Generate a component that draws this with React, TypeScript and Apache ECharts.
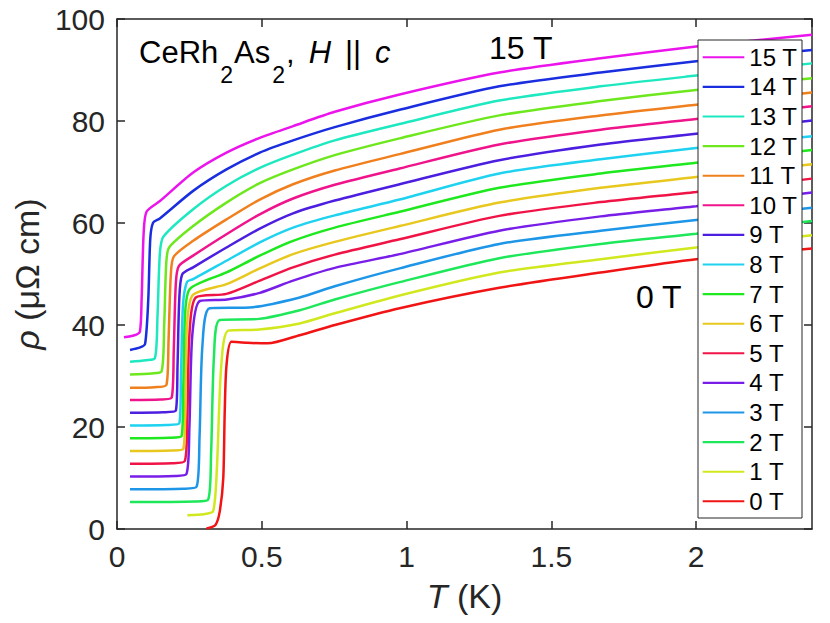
import React, { useEffect, useRef } from "react";
import * as echarts from "echarts";

const FONT = "'Liberation Sans', Arial, Helvetica, sans-serif";

const fieldLabels = ["15 T", "14 T", "13 T", "12 T", "11 T", "10 T", "9 T", "8 T", "7 T", "6 T", "5 T", "4 T", "3 T", "2 T", "1 T", "0 T"];
const fieldColors = ["#ec14ec", "#1a2ee0", "#1ee8c0", "#6ee81e", "#f07f1e", "#f0148c", "#4c1ee0", "#1ed2f0", "#1ee81e", "#e8c81e", "#f01446", "#781ee8", "#1e96e8", "#1ee85a", "#d2e81e", "#f01414"];

const xTicks = { min: 0, max: 2.4, interval: 0.5 };
const yTicks = { min: 0, max: 100, interval: 20 };

// [T (K), rho (μΩ cm)]
const rho15T = [[0.024, 37.6], [0.06, 38.0], [0.079, 38.7], [0.085, 45], [0.092, 58], [0.102, 62.2], [0.148, 64.3], [0.263, 69.9], [0.378, 73.8], [0.493, 76.7], [0.608, 79.0], [0.752, 81.8], [0.976, 85.2], [1.32, 89.5], [1.67, 92.3], [2.0, 94.6], [2.4, 96.9]];
const rho14T = [[0.045, 35.1], [0.08, 35.6], [0.097, 36.3], [0.108, 45], [0.115, 57], [0.125, 60.1], [0.148, 60.9], [0.263, 66.3], [0.378, 70.5], [0.493, 73.8], [0.608, 76.2], [0.752, 78.8], [0.976, 82.2], [1.32, 86.8], [1.67, 89.5], [2.0, 91.7], [2.4, 93.9]];
const rho13T = [[0.045, 32.8], [0.1, 33.1], [0.131, 33.5], [0.14, 42], [0.148, 54], [0.16, 57.3], [0.263, 62.7], [0.378, 67.3], [0.493, 70.8], [0.608, 73.4], [0.752, 76.2], [0.976, 79.4], [1.32, 84.0], [1.67, 86.8], [2.0, 88.9], [2.4, 91.3]];
const rho12T = [[0.045, 30.3], [0.12, 30.5], [0.154, 30.9], [0.163, 40], [0.17, 52], [0.18, 55.2], [0.263, 59.4], [0.378, 64.0], [0.493, 67.8], [0.608, 70.5], [0.752, 73.3], [0.976, 76.6], [1.32, 81.1], [1.67, 83.9], [2.0, 86.1], [2.4, 88.4]];
const rho11T = [[0.045, 27.7], [0.13, 27.8], [0.171, 28.3], [0.178, 37], [0.186, 50], [0.196, 53.4], [0.263, 56.5], [0.378, 60.7], [0.493, 64.6], [0.608, 67.6], [0.752, 70.3], [0.976, 73.5], [1.32, 78.3], [1.67, 81.1], [2.0, 83.2], [2.4, 85.6]];
const rho10T = [[0.045, 25.3], [0.15, 25.4], [0.189, 25.8], [0.196, 35], [0.203, 48], [0.213, 51.5], [0.263, 53.6], [0.378, 57.8], [0.493, 61.7], [0.608, 64.8], [0.752, 67.5], [0.976, 70.7], [1.32, 75.4], [1.67, 78.3], [2.0, 80.4], [2.4, 82.9]];
const rho9T = [[0.045, 22.8], [0.16, 22.9], [0.203, 23.2], [0.209, 32], [0.215, 45], [0.225, 49.9], [0.263, 51.3], [0.378, 55.2], [0.493, 58.9], [0.608, 61.9], [0.752, 64.4], [0.976, 67.6], [1.32, 72.3], [1.67, 75.4], [2.0, 77.5], [2.4, 80.1]];
const rho8T = [[0.045, 20.3], [0.17, 20.4], [0.215, 20.7], [0.221, 30], [0.228, 44], [0.242, 48.5], [0.263, 49.0], [0.378, 52.6], [0.493, 56.2], [0.608, 59.1], [0.752, 61.5], [0.976, 64.6], [1.32, 69.7], [1.67, 72.5], [2.0, 74.7], [2.4, 77.0]];
const rho7T = [[0.045, 17.8], [0.18, 17.9], [0.223, 18.2], [0.229, 28], [0.235, 42], [0.252, 47.1], [0.378, 50.3], [0.493, 53.6], [0.608, 56.5], [0.752, 59.1], [0.976, 62.2], [1.32, 66.9], [1.67, 69.7], [2.0, 71.8], [2.4, 74.3]];
const rho6T = [[0.045, 15.3], [0.19, 15.4], [0.229, 15.7], [0.236, 25], [0.242, 40], [0.262, 45.9], [0.378, 48.0], [0.493, 51.1], [0.608, 53.9], [0.752, 56.3], [0.976, 59.4], [1.32, 64.0], [1.67, 66.9], [2.0, 69.0], [2.4, 71.5]];
const rho5T = [[0.045, 12.8], [0.19, 12.9], [0.234, 13.3], [0.243, 22], [0.25, 38], [0.272, 45.4], [0.378, 46.1], [0.493, 48.7], [0.608, 51.3], [0.752, 53.8], [0.976, 56.8], [1.32, 61.4], [1.67, 64.1], [2.0, 66.1], [2.4, 68.7]];
const rho4T = [[0.045, 10.3], [0.2, 10.4], [0.24, 10.8], [0.25, 20], [0.26, 38], [0.286, 44.7], [0.38, 45.0], [0.493, 46.3], [0.608, 48.7], [0.752, 51.2], [0.976, 53.9], [1.32, 58.5], [1.67, 61.3], [2.0, 63.3], [2.4, 66.0]];
const rho3T = [[0.045, 7.8], [0.23, 7.9], [0.275, 8.3], [0.285, 18], [0.295, 36], [0.32, 43.3], [0.47, 43.5], [0.631, 45.4], [0.752, 47.6], [0.976, 51.1], [1.32, 55.9], [1.67, 58.5], [2.0, 60.6], [2.4, 63.0]];
const rho2T = [[0.045, 5.3], [0.27, 5.4], [0.315, 5.8], [0.325, 15], [0.335, 34], [0.355, 41.0], [0.49, 41.2], [0.631, 42.9], [0.752, 45.0], [0.976, 48.4], [1.32, 53.1], [1.67, 55.9], [2.0, 57.9], [2.4, 60.4]];
const rho1T = [[0.243, 2.7], [0.3, 2.9], [0.332, 3.5], [0.345, 12], [0.36, 32], [0.384, 38.9], [0.49, 39.1], [0.631, 40.3], [0.752, 42.3], [0.976, 45.8], [1.32, 50.3], [1.67, 52.9], [2.0, 55.2], [2.4, 57.6]];
const rho0T = [[0.309, 0.1], [0.34, 0.8], [0.355, 3.5], [0.367, 10], [0.372, 23], [0.378, 32], [0.395, 36.7], [0.45, 36.5], [0.52, 36.4], [0.631, 38.0], [0.752, 40.0], [0.976, 43.3], [1.32, 47.3], [1.67, 50.3], [2.0, 52.9], [2.4, 55.0]];

const curves = [rho15T, rho14T, rho13T, rho12T, rho11T, rho10T, rho9T, rho8T, rho7T, rho6T, rho5T, rho4T, rho3T, rho2T, rho1T, rho0T];

const AX = "#262626";

function axisCommon(extra: any) {
  return {
    type: "value",
    axisLine: { show: true, onZero: false, lineStyle: { color: AX, width: 1.5 } },
    axisTick: { show: true, inside: true, length: 8, lineStyle: { color: AX, width: 1.5 } },
    splitLine: { show: false },
    ...extra,
  };
}

export default function App() {
  const ref = useRef<HTMLDivElement>(null);
  useEffect(() => {
    if (!ref.current) return;
    const chart = echarts.init(ref.current, null, { renderer: "svg" });
    const series = curves.map((d, i) => ({
      name: fieldLabels[i],
      type: "line",
      data: d,
      symbol: "none",
      showSymbol: false,
      smooth: 0.25,
      z: 2 + (curves.length - i) * 0.01,
      lineStyle: { color: fieldColors[i], width: 2.5 },
      itemStyle: { color: fieldColors[i] },
      emphasis: { disabled: true },
    }));
    const option: any = {
      animation: false,
      backgroundColor: "#ffffff",
      grid: { left: 117, right: 18, top: 19, bottom: 94 },
      xAxis: [
        axisCommon({
          ...xTicks,
          position: "bottom",
          axisLabel: { show: true, fontSize: 30, color: AX, fontFamily: FONT, margin: 12, showMaxLabel: false },
          name: "{i|T} (K)",
          nameLocation: "middle",
          nameGap: 50,
          nameTextStyle: {
            fontSize: 34,
            color: AX,
            fontFamily: FONT,
            rich: { i: { fontSize: 34, fontStyle: "italic", color: AX, fontFamily: FONT } },
          },
        }),
        axisCommon({ ...xTicks, position: "top", axisLabel: { show: false } }),
      ],
      yAxis: [
        axisCommon({
          ...yTicks,
          position: "left",
          axisLabel: { show: true, fontSize: 30, color: AX, fontFamily: FONT, margin: 12 },
          name: "{i|ρ} (μΩ cm)",
          nameLocation: "middle",
          nameGap: 62,
          nameRotate: 90,
          nameTextStyle: {
            fontSize: 34,
            color: AX,
            fontFamily: FONT,
            rich: { i: { fontSize: 34, fontStyle: "italic", color: AX, fontFamily: FONT } },
          },
        }),
        axisCommon({ ...yTicks, position: "right", axisLabel: { show: false } }),
      ],
      legend: {
        show: true,
        orient: "vertical",
        left: 702.7,
        top: 45.3,
        padding: 0,
        itemWidth: 41.6,
        itemHeight: 24,
        itemGap: 5.6,
        z: 10,
        selectedMode: false,
        icon: "path://M0,0H40V2H0Z",
        itemStyle: { borderWidth: 0 },
        textStyle: { fontSize: 24, lineHeight: 24, color: "#000", fontFamily: FONT },
        data: fieldLabels,
      },
      graphic: {
        elements: [
          {
            type: "rect",
            z: 3,
            shape: { x: 698, y: 40, width: 104, height: 478 },
            style: { fill: "#ffffff", stroke: AX, lineWidth: 1 },
          },
          {
            type: "text",
            z: 3,
            x: 139,
            y: 37,
            style: {
              text: "{n|CeRh}{s|2}{n|As}{s|2}{n|,}{h|H}{b|||}{c|c}",
              verticalAlign: "top",
              fill: "#000",
              rich: {
                n: { fontSize: 31, fontFamily: FONT, lineHeight: 36, verticalAlign: "top", fill: "#000" },
                h: { fontSize: 31, fontFamily: FONT, fontStyle: "italic", lineHeight: 36, verticalAlign: "top", fill: "#000", padding: [0, 0, 0, 14] },
                b: { fontSize: 31, fontFamily: FONT, lineHeight: 36, verticalAlign: "top", fill: "#000", padding: [0, 0, 0, 14] },
                c: { fontSize: 31, fontFamily: FONT, fontStyle: "italic", lineHeight: 36, verticalAlign: "top", fill: "#000", padding: [0, 0, 0, 14] },
                s: { fontSize: 23, fontFamily: FONT, lineHeight: 24, verticalAlign: "top", padding: [26, 1, 0, 2], fill: "#000" },
              },
            },
          },
          {
            type: "text",
            z: 3,
            x: 489,
            y: 48,
            style: { text: "15 T", fontSize: 32, fontFamily: FONT, fill: "#000", verticalAlign: "middle" },
          },
          {
            type: "text",
            z: 3,
            x: 636,
            y: 297,
            style: { text: "0 T", fontSize: 32, fontFamily: FONT, fill: "#000", verticalAlign: "middle" },
          },
        ],
      },
      series,
    };
    chart.setOption(option);
    return () => chart.dispose();
  }, []);
  return (
    <div
      ref={ref}
      style={{ position: "fixed", left: 0, top: 0, width: 830, height: 623, background: "#fff" }}
    />
  );
}
